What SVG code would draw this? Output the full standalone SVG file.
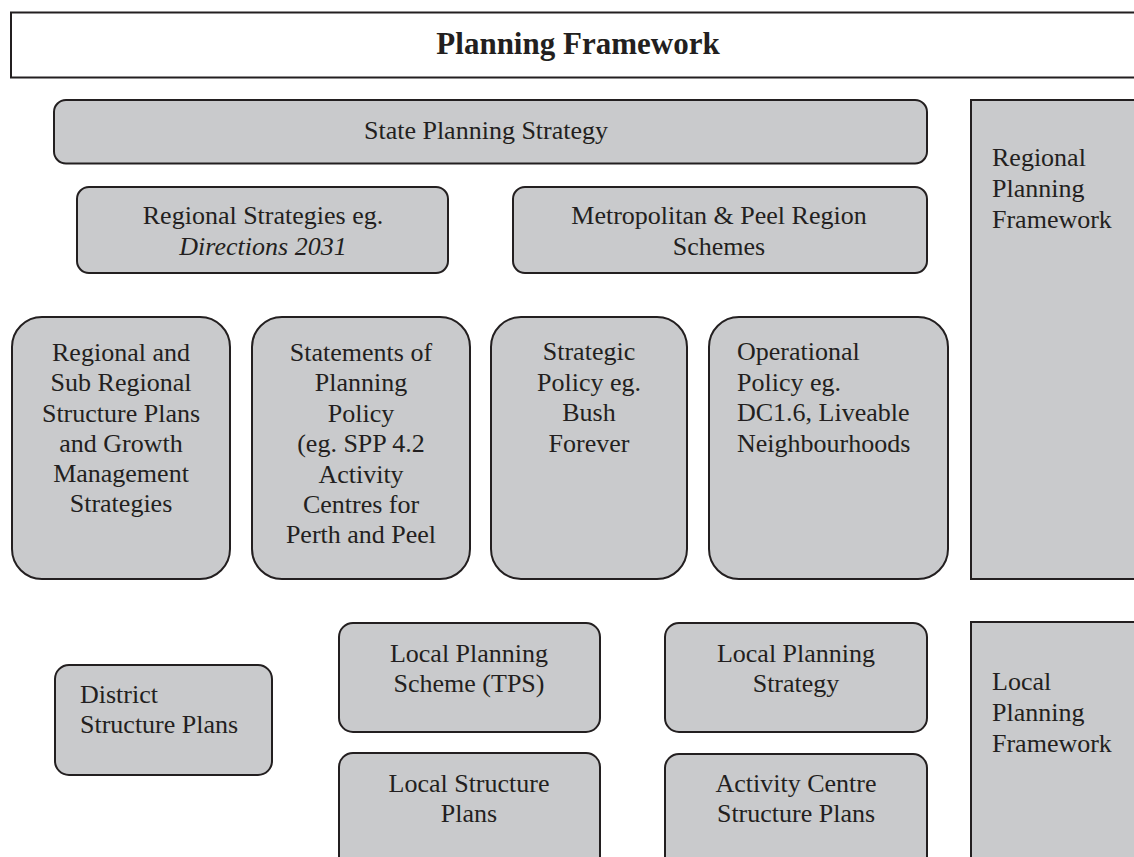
<svg xmlns="http://www.w3.org/2000/svg" width="1134" height="857" viewBox="0 0 1134 857">
  <style>
    .box { fill: #c9cacc; stroke: #231f20; stroke-width: 2; }
    .title-box { fill: #ffffff; stroke: #231f20; stroke-width: 2; }
    text { font-family: "Liberation Serif", "Times New Roman", serif; font-size: 26px; fill: #231f20; }
    .c { text-anchor: middle; }
    .title { font-size: 31px; font-weight: bold; }
    .it { font-style: italic; }
  </style>
  <rect width="1134" height="857" fill="#ffffff"/>

  <!-- heading banner -->
  <g id="title">
    <rect class="title-box" x="11" y="12.5" width="1140" height="65"/>
    <text class="title c" x="578" y="54">Planning Framework</text>
  </g>

  <!-- side panels -->
  <g id="regional-framework">
    <rect class="box" x="971" y="100" width="180" height="479"/>
    <text x="992" y="166">Regional</text>
    <text x="992" y="197">Planning</text>
    <text x="992" y="228">Framework</text>
  </g>
  <g id="local-framework">
    <rect class="box" x="971" y="622" width="180" height="260"/>
    <text x="992" y="690">Local</text>
    <text x="992" y="721">Planning</text>
    <text x="992" y="752">Framework</text>
  </g>

  <!-- regional tier -->
  <g id="state-strategy">
    <rect class="box" x="54" y="100" width="873" height="63.5" rx="12"/>
    <text class="c" x="486" y="139">State Planning Strategy</text>
  </g>
  <g id="regional-strategies">
    <rect class="box" x="77" y="187" width="371" height="86" rx="12"/>
    <text class="c" x="263" y="224">Regional Strategies eg.</text>
    <text class="c it" x="263" y="255">Directions 2031</text>
  </g>
  <g id="region-schemes">
    <rect class="box" x="513" y="187" width="414" height="86" rx="12"/>
    <text class="c" x="719" y="224">Metropolitan &amp; Peel Region</text>
    <text class="c" x="719" y="255">Schemes</text>
  </g>

  <g id="structure-plans">
    <rect class="box" x="12" y="317" width="218" height="262" rx="30"/>
    <text class="c" x="121" y="361">Regional and</text>
    <text class="c" x="121" y="391">Sub Regional</text>
    <text class="c" x="121" y="422">Structure Plans</text>
    <text class="c" x="121" y="452">and Growth</text>
    <text class="c" x="121" y="482">Management</text>
    <text class="c" x="121" y="512">Strategies</text>
  </g>
  <g id="planning-statements">
    <rect class="box" x="252" y="317" width="218" height="262" rx="30"/>
    <text class="c" x="361" y="361">Statements of</text>
    <text class="c" x="361" y="391">Planning</text>
    <text class="c" x="361" y="422">Policy</text>
    <text class="c" x="361" y="452">(eg. SPP 4.2</text>
    <text class="c" x="361" y="483">Activity</text>
    <text class="c" x="361" y="513">Centres for</text>
    <text class="c" x="361" y="543">Perth and Peel</text>
  </g>
  <g id="strategic-policy">
    <rect class="box" x="491" y="317" width="196" height="262" rx="30"/>
    <text class="c" x="589" y="360">Strategic</text>
    <text class="c" x="589" y="391">Policy eg.</text>
    <text class="c" x="589" y="421">Bush</text>
    <text class="c" x="589" y="452">Forever</text>
  </g>
  <g id="operational-policy">
    <rect class="box" x="709" y="317" width="239" height="262" rx="30"/>
    <text x="737" y="360">Operational</text>
    <text x="737" y="391">Policy eg.</text>
    <text x="737" y="421">DC1.6, Liveable</text>
    <text x="737" y="452">Neighbourhoods</text>
  </g>

  <!-- local tier -->
  <g id="district-plans">
    <rect class="box" x="55" y="665" width="217" height="110" rx="14"/>
    <text x="80" y="703">District</text>
    <text x="80" y="733">Structure Plans</text>
  </g>
  <g id="local-scheme">
    <rect class="box" x="339" y="623" width="261" height="109" rx="14"/>
    <text class="c" x="469" y="662">Local Planning</text>
    <text class="c" x="469" y="692">Scheme (TPS)</text>
  </g>
  <g id="local-structure-plans">
    <rect class="box" x="339" y="753" width="261" height="130" rx="14"/>
    <text class="c" x="469" y="792">Local Structure</text>
    <text class="c" x="469" y="822">Plans</text>
  </g>
  <g id="local-strategy">
    <rect class="box" x="665" y="623" width="262" height="109" rx="14"/>
    <text class="c" x="796" y="662">Local Planning</text>
    <text class="c" x="796" y="692">Strategy</text>
  </g>
  <g id="activity-centre-plans">
    <rect class="box" x="665" y="754" width="262" height="130" rx="14"/>
    <text class="c" x="796" y="792">Activity Centre</text>
    <text class="c" x="796" y="822">Structure Plans</text>
  </g>

  <!-- no connectors are drawn between tiers -->
  <g id="connectors"/>
</svg>
